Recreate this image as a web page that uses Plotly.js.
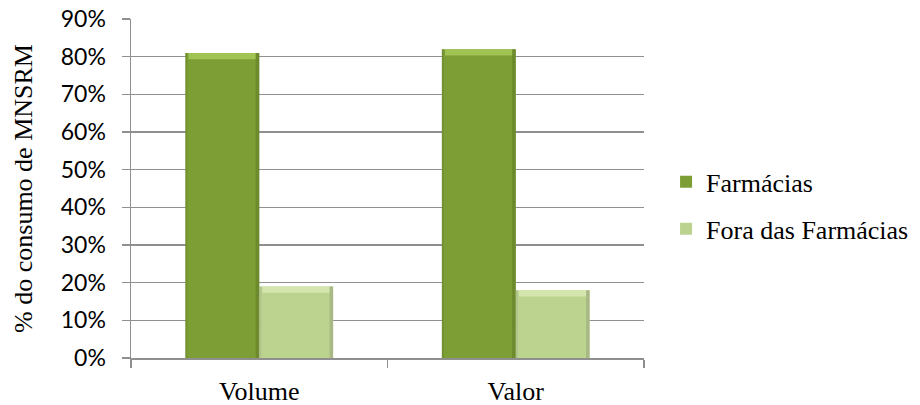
<!DOCTYPE html>
<html>
<head>
<meta charset="utf-8">
<script src="https://cdn.plot.ly/plotly-3.0.1.min.js"></script>
<style>
  html, body { margin: 0; padding: 0; background: #fff; }
  #chart { width: 920px; height: 405px; }
</style>
</head>
<body>
<div id="chart"></div>
<script>
// Share of MNSRM consumption, inside vs outside pharmacies
const categories = ['Volume', 'Valor'];
const farmacias = [81, 82];            // Farmácias
const foraFarmacias = [19, 18];        // Fora das Farmácias
const seriesNames = ['Farmácias', 'Fora das Farmácias'];
const yTicks = [0, 10, 20, 30, 40, 50, 60, 70, 80, 90];
const yTitle = '% do consumo de MNSRM';

const serif = '"Times New Roman", "Liberation Serif", serif';
const sans = 'Lato';
const grid = '#8f8f8f';
const bargap = 0.424;

// bar fill, bevel highlight and shaded edge per series
const styles = [
  { fill: '#7d9e35', light: '#a6c958', dark: '#66832a' },
  { fill: '#bcd390', light: '#d9e8b4', dark: '#9fae80' }
];
const seriesValues = [farmacias, foraFarmacias];

const traces = seriesValues.map((vals, s) => ({
  type: 'bar', name: seriesNames[s], x: categories, y: vals,
  legendgroup: 'g' + s,
  marker: { color: styles[s].fill, line: { width: 0 } },
  hoverinfo: 'skip'
}));

// soft bevel: a light band on top and a darker strip on the right of each bar
const barW = (1 - bargap) / seriesValues.length;
const shapes = [];
seriesValues.forEach((vals, s) => {
  vals.forEach((v, i) => {
    const x0 = i - (1 - bargap) / 2 + s * barW;
    const x1 = x0 + barW;
    shapes.push({
      type: 'rect', xref: 'x', yref: 'y', layer: 'above',
      x0: x0 + 0.012, x1: x1 - 0.012, y0: v - 1.7, y1: v,
      fillcolor: styles[s].light, opacity: 0.85, line: { width: 0 }
    });
    shapes.push({
      type: 'rect', xref: 'x', yref: 'y', layer: 'above',
      x0: x1 - 0.014, x1: x1, y0: 0, y1: v,
      fillcolor: styles[s].dark, opacity: 0.7, line: { width: 0 }
    });
    shapes.push({
      type: 'rect', xref: 'x', yref: 'y', layer: 'above',
      x0: x0, x1: x0 + 0.008, y0: 0, y1: v,
      fillcolor: styles[s].dark, opacity: 0.45, line: { width: 0 }
    });
  });
});

const layout = {
  width: 920, height: 405,
  margin: { l: 131, r: 276, t: 19, b: 47, autoexpand: false },
  paper_bgcolor: '#fff', plot_bgcolor: '#fff',
  font: { family: serif, size: 26, color: '#000' },
  barmode: 'group', bargap: bargap, bargroupgap: 0,
  showlegend: true,
  shapes: shapes,
  legend: {
    x: 1.043, xanchor: 'left', y: 0.45, yanchor: 'middle',
    font: { family: serif, size: 26, color: '#000' },
    traceorder: 'grouped', tracegroupgap: 10,
    bgcolor: 'rgba(0,0,0,0)'
  },
  xaxis: {
    type: 'category', automargin: false,
    showgrid: false, zeroline: false,
    showline: true, linecolor: grid, linewidth: 1.5,
    ticks: 'outside', tickson: 'boundaries', ticklen: 8, tickcolor: grid, tickwidth: 1.5,
    tickfont: { family: serif, size: 26, color: '#000' },
    ticklabelstandoff: 9
  },
  yaxis: {
    range: [0, 90], automargin: false,
    tickvals: yTicks, ticktext: yTicks.map(v => v + '%'),
    showgrid: true, gridcolor: grid, gridwidth: 1.5,
    zeroline: false,
    showline: true, linecolor: grid, linewidth: 1.5,
    ticks: 'outside', ticklen: 8, tickcolor: grid, tickwidth: 1.5,
    tickfont: { family: sans, size: 23, color: '#000' },
    ticklabelstandoff: 11,
    title: { text: yTitle, font: { family: serif, size: 26, color: '#000' }, standoff: 20 }
  }
};

Plotly.newPlot('chart', traces, layout, { displayModeBar: false, staticPlot: true });
</script>
</body>
</html>
